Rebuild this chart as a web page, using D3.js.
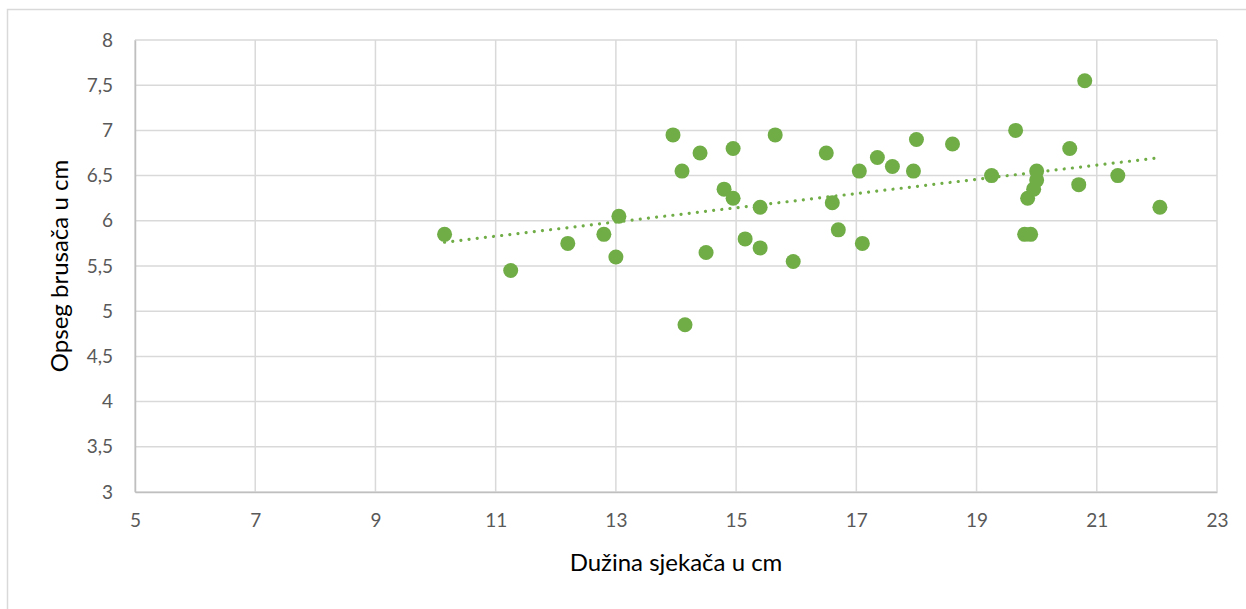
<!DOCTYPE html>
<html>
<head>
<meta charset="utf-8">
<script src="https://d3js.org/d3.v7.min.js"></script>
<style>
    body { margin: 0; background: #ffffff; }
    text { font-family: Lato, "Open Sans", sans-serif; }
    .tick text { font-size: 19px; fill: #595959; }
    .axis-title { font-size: 24px; fill: #000000; }
</style>
</head>
<body>
<div id="container"></div>
<script>
    // data (x = Dužina sjekača, y = Opseg brusača)
    const duzina = [10.15, 11.25, 12.2, 12.8, 13.0, 13.05, 13.95, 14.1, 14.15, 14.4,
        14.5, 14.8, 14.95, 14.95, 15.15, 15.4, 15.4, 15.65, 15.95, 16.5,
        16.6, 16.7, 17.05, 17.1, 17.35, 17.6, 17.95, 18.0, 18.6, 19.25,
        19.65, 19.8, 19.9, 19.85, 19.95, 20.0, 20.0, 20.55, 20.7, 20.8,
        21.35, 22.05];
    const opseg = [5.85, 5.45, 5.75, 5.85, 5.6, 6.05, 6.95, 6.55, 4.85, 6.75,
        5.65, 6.35, 6.25, 6.8, 5.8, 6.15, 5.7, 6.95, 5.55, 6.75,
        6.2, 5.9, 6.55, 5.75, 6.7, 6.6, 6.55, 6.9, 6.85, 6.5,
        7.0, 5.85, 5.85, 6.25, 6.35, 6.45, 6.55, 6.8, 6.4, 7.55,
        6.5, 6.15];
    const xTicks = [5, 7, 9, 11, 13, 15, 17, 19, 21, 23];
    const yTicks = [3, 3.5, 4, 4.5, 5, 5.5, 6, 6.5, 7, 7.5, 8];

    const W = 1246, H = 609;
    const margin = {top: 40, right: 29, bottom: 117, left: 135};
    const width = W - margin.left - margin.right;
    const height = H - margin.top - margin.bottom;

    const svg = d3.select("#container")
        .append("svg")
        .attr("width", W)
        .attr("height", H);

    // chart border (only left/top visible in the picture)
    svg.append("rect")
        .attr("x", 7.5).attr("y", 9.5)
        .attr("width", W).attr("height", H)
        .attr("fill", "none")
        .attr("stroke", "#d9d9d9")
        .attr("stroke-width", 1.5);

    const g = svg.append("g")
        .attr("transform", "translate(" + margin.left + "," + margin.top + ")");

    const x = d3.scaleLinear().domain([5, 23]).range([0, width]);
    const y = d3.scaleLinear().domain([3, 8]).range([height, 0]);

    // gridlines
    g.append("g")
        .selectAll("line.v")
        .data(xTicks)
        .enter().append("line")
        .attr("x1", d => x(d)).attr("x2", d => x(d))
        .attr("y1", 0).attr("y2", height)
        .attr("stroke", "#d9d9d9").attr("stroke-width", 1.5);

    g.append("g")
        .selectAll("line.h")
        .data(yTicks)
        .enter().append("line")
        .attr("x1", 0).attr("x2", width)
        .attr("y1", d => y(d)).attr("y2", d => y(d))
        .attr("stroke", "#d9d9d9").attr("stroke-width", 1.5);

    const fmt = d => String(d).replace(".", ",");

    // x axis
    const xAxis = g.append("g")
        .attr("transform", "translate(0," + height + ")")
        .call(d3.axisBottom(x).tickValues(xTicks).tickFormat(fmt).tickSize(0).tickPadding(22));
    xAxis.select(".domain").attr("stroke", "#bfbfbf").attr("stroke-width", 1.5);

    // y axis
    const yAxis = g.append("g")
        .call(d3.axisLeft(y).tickValues(yTicks).tickFormat(fmt).tickSize(0).tickPadding(22));
    yAxis.select(".domain").attr("stroke", "#bfbfbf").attr("stroke-width", 1.5);

    // points
    g.append("g")
        .selectAll("circle")
        .data(duzina.map((d, i) => [d, opseg[i]]))
        .enter().append("circle")
        .attr("cx", d => x(d[0]))
        .attr("cy", d => y(d[1]))
        .attr("r", 7.5)
        .attr("fill", "#70ad47");

    // linear trendline (least squares)
    const n = duzina.length;
    const mx = d3.mean(duzina), my = d3.mean(opseg);
    let sxy = 0, sxx = 0;
    for (let i = 0; i < n; i++) {
        sxy += (duzina[i] - mx) * (opseg[i] - my);
        sxx += (duzina[i] - mx) * (duzina[i] - mx);
    }
    const slope = sxy / sxx, icpt = my - slope * mx;
    const x0 = d3.min(duzina), x1 = d3.max(duzina);

    g.append("line")
        .attr("x1", x(x0)).attr("y1", y(icpt + slope * x0))
        .attr("x2", x(x1)).attr("y2", y(icpt + slope * x1))
        .attr("stroke", "#70ad47")
        .attr("stroke-width", 3.2)
        .attr("stroke-linecap", "round")
        .attr("stroke-dasharray", "0.01 8.2");

    // axis titles
    svg.append("text")
        .attr("class", "axis-title")
        .attr("x", margin.left + width / 2)
        .attr("y", 571)
        .attr("text-anchor", "middle")
        .text("Dužina sjekača u cm");

    svg.append("text")
        .attr("class", "axis-title")
        .attr("transform", "translate(68," + (margin.top + height / 2) + ") rotate(-90)")
        .attr("text-anchor", "middle")
        .text("Opseg brusača u cm");
</script>
</body>
</html>
